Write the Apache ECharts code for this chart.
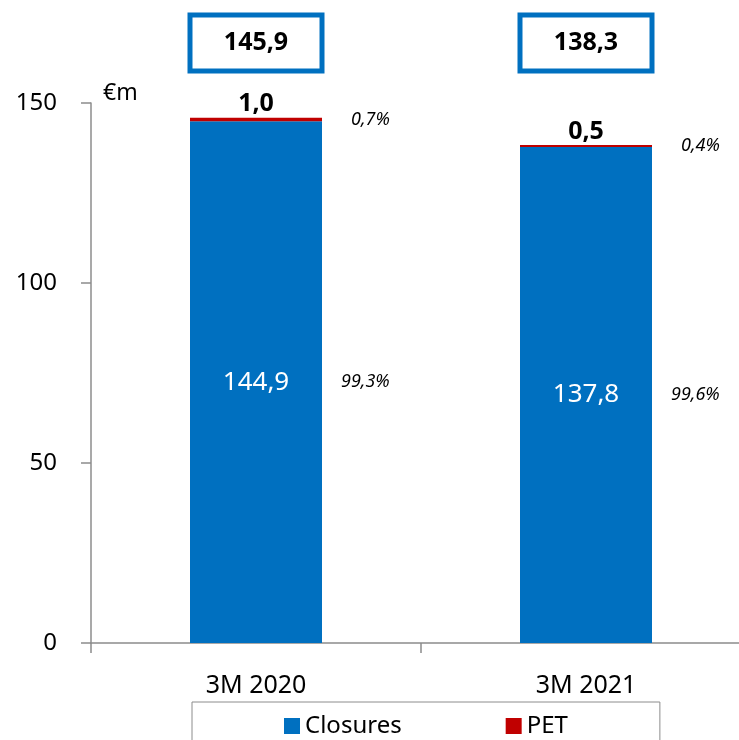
<!DOCTYPE html>
<html>
<head>
<meta charset="utf-8">
<script src="https://cdn.jsdelivr.net/npm/echarts@6/dist/echarts.min.js"></script>
<style>
  html, body { margin: 0; padding: 0; background: #fff; overflow: hidden; }
  /* the plot runs a little past the right edge of the window */
  #chart { width: 760px; height: 740px; }
</style>
</head>
<body>
<div id="chart"></div>
<script>
// Revenue split by segment, €m
const categories = ['3M 2020', '3M 2021'];
const closures = [144.9, 137.8];
const pet = [1.0, 0.5];
const totals = [145.9, 138.3];
const closuresShare = ['99,3%', '99,6%'];
const petShare = ['0,7%', '0,4%'];
const yTicks = [0, 50, 100, 150];

const BLUE = '#0070C0';
const RED = '#C00000';
const GREY = '#8c8c8c';
const FONT = 'Noto Sans';

const fmt = v => v.toFixed(1).replace('.', ',');

const chart = echarts.init(document.getElementById('chart'), null, { renderer: 'canvas' });

chart.setOption({
  animation: false,
  textStyle: { fontFamily: FONT },
  grid: { left: 91, top: 103, width: 660, height: 540 },
  legend: {
    data: ['Closures', 'PET'],
    left: 192,
    top: 702,
    icon: 'rect',
    itemWidth: 16,
    itemHeight: 16,
    itemGap: 104,
    padding: [12, 92, 30, 92],
    borderColor: GREY,
    borderWidth: 1,
    textStyle: { fontFamily: FONT, fontSize: 24, color: '#000' }
  },
  graphic: [{
    type: 'text',
    left: 103,
    top: 82,
    style: { text: '€m', fontFamily: FONT, fontSize: 23, fill: '#000' }
  }],
  xAxis: {
    type: 'category',
    data: categories,
    axisLine: { lineStyle: { color: GREY, width: 1.5 } },
    axisTick: { show: true, length: 10, lineStyle: { color: GREY, width: 1.5 } },
    axisLabel: { margin: 30, fontSize: 25, color: '#000', fontFamily: FONT }
  },
  yAxis: {
    type: 'value',
    min: yTicks[0],
    max: yTicks[yTicks.length - 1],
    interval: yTicks[1] - yTicks[0],
    splitLine: { show: false },
    axisLine: { show: true, lineStyle: { color: GREY, width: 1.5 } },
    axisTick: { show: true, length: 10, lineStyle: { color: GREY, width: 1.5 } },
    axisLabel: { margin: 34, fontSize: 24, color: '#000', fontFamily: FONT }
  },
  series: [
    {
      name: 'Closures',
      type: 'bar',
      stack: 'main',
      barWidth: '40%',
      barGap: '-100%',
      data: closures,
      itemStyle: { color: BLUE },
      label: {
        show: true,
        position: 'inside',
        color: '#fff',
        fontSize: 26,
        fontFamily: FONT,
        formatter: p => fmt(p.value)
      }
    },
    {
      name: 'PET',
      type: 'bar',
      stack: 'main',
      barWidth: '40%',
      data: pet,
      itemStyle: { color: RED },
      label: {
        show: true,
        position: 'top',
        distance: 1,
        color: '#000',
        fontWeight: 'bold',
        fontSize: 25,
        fontFamily: FONT,
        formatter: p => fmt(p.value)
      }
    },
    // share labels, placed beside each segment
    {
      name: 'closuresShare',
      type: 'bar',
      stack: 'share',
      barWidth: '40%',
      barGap: '-100%',
      silent: true,
      data: closures,
      itemStyle: { color: 'rgba(0,0,0,0)' },
      label: {
        show: true,
        position: 'right',
        distance: 19,
        color: '#000',
        fontStyle: 'italic',
        fontSize: 18,
        fontFamily: FONT,
        formatter: p => closuresShare[p.dataIndex]
      }
    },
    {
      name: 'petShare',
      type: 'bar',
      stack: 'share',
      barWidth: '40%',
      silent: true,
      data: pet,
      itemStyle: { color: 'rgba(0,0,0,0)' },
      label: {
        show: true,
        position: 'right',
        distance: 29,
        color: '#000',
        fontStyle: 'italic',
        fontSize: 18,
        fontFamily: FONT,
        formatter: p => petShare[p.dataIndex]
      }
    },
    // boxed totals above each column
    {
      name: 'total',
      type: 'scatter',
      symbolSize: 0,
      silent: true,
      clip: false,
      itemStyle: { opacity: 1 },
      data: categories.map((c, i) => [c, yTicks[yTicks.length - 1], totals[i]]),
      label: {
        show: true,
        position: 'inside',
        offset: [0, -60],
        width: 127,
        height: 51,
        lineHeight: 51,
        align: 'center',
        verticalAlign: 'middle',
        borderColor: BLUE,
        borderWidth: 5,
        backgroundColor: '#fff',
        color: '#000',
        textBorderWidth: 0,
        fontWeight: 'bold',
        fontSize: 25,
        fontFamily: FONT,
        formatter: p => fmt(p.value[2])
      }
    }
  ]
});
</script>
</body>
</html>
